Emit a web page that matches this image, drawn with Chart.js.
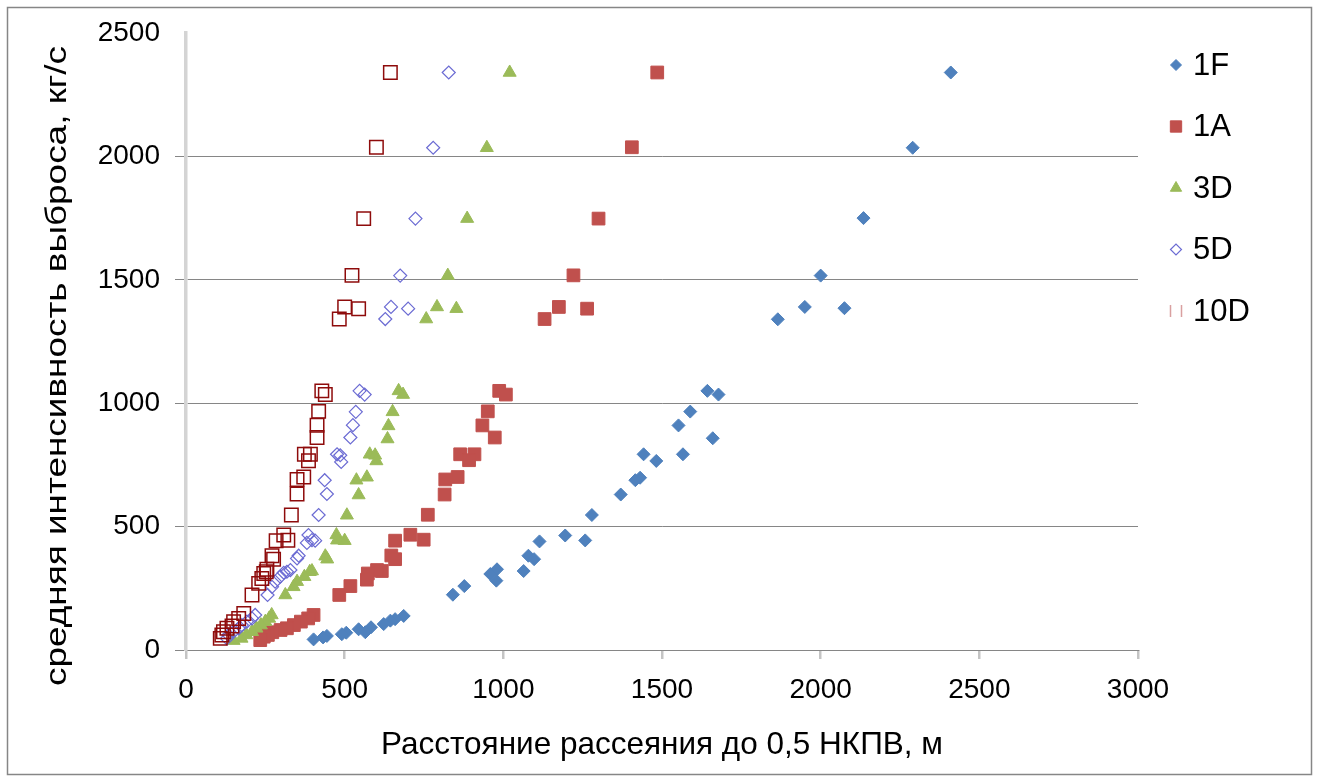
<!DOCTYPE html>
<html>
<head>
<meta charset="utf-8">
<script src="https://cdn.jsdelivr.net/npm/chart.js@4.4.1/dist/chart.umd.min.js"></script>
<style>
  body { margin: 0; background: #fff; }
  canvas { display: block; }
</style>
</head>
<body>
<canvas id="scatterChart" width="1317" height="781"></canvas>
<script>
// Оси
const xTicks = [0, 500, 1000, 1500, 2000, 2500, 3000];
const yTicks = [0, 500, 1000, 1500, 2000, 2500];
const xTitle = 'Расстояние рассеяния до 0,5 НКПВ, м';
const yTitle = 'средняя интенсивность выброса, кг/с';

// Серии: [расстояние, м ; интенсивность, кг/с]
const series1F = [
  [2410, 2340], [2290, 2035], [2135, 1750], [2000, 1517], [2075, 1385], [1950, 1390], [1865, 1340],
  [1643, 1050], [1678, 1035], [1589, 966], [1552, 910], [1660, 858], [1442, 793], [1566, 793], [1482, 766],
  [1431, 698], [1416, 688], [1370, 630], [1279, 547], [1195, 464], [1258, 444], [1114, 440], [1079, 382],
  [1097, 368], [1064, 320], [980, 327], [959, 308], [978, 281], [877, 259], [841, 224],
  [686, 138], [659, 125], [644, 119], [623, 105], [583, 92], [544, 84], [565, 72], [505, 70], [491, 64],
  [444, 57], [432, 51], [402, 43]
];
const series1A = [
  [1485, 2340], [1405, 2037], [1300, 1748], [1221, 1518], [1175, 1390], [1264, 1383], [1130, 1341],
  [987, 1050], [1008, 1035], [951, 967], [934, 910], [973, 861], [864, 793], [909, 793], [892, 769],
  [856, 701], [817, 691], [815, 630], [762, 548], [707, 467], [749, 447], [659, 443], [647, 383],
  [659, 368], [617, 320], [602, 324], [573, 310], [570, 285], [518, 259], [483, 223],
  [402, 142], [385, 128], [362, 115], [340, 101], [318, 88], [298, 81], [272, 72], [258, 61], [245, 54], [234, 40]
];
const series3D = [
  [1020, 2340], [948, 2035], [886, 1748], [825, 1517], [791, 1390], [852, 1383], [757, 1341],
  [670, 1050], [684, 1035], [651, 965], [638, 908], [635, 855], [579, 793], [596, 789], [600, 766],
  [570, 700], [537, 688], [544, 628], [507, 546], [474, 466], [500, 443], [476, 445], [439, 380],
  [445, 368], [397, 320], [390, 317], [373, 297], [350, 277], [339, 256], [313, 223],
  [270, 142], [262, 128], [250, 115], [236, 101], [222, 88], [208, 74], [190, 61], [175, 47], [150, 38]
];
const series5D = [
  [828, 2340], [779, 2035], [723, 1748], [675, 1517], [646, 1390], [700, 1383], [628, 1341],
  [547, 1050], [563, 1035], [535, 965], [526, 911], [518, 861], [476, 793], [486, 789], [489, 762],
  [437, 688], [444, 632], [418, 547], [386, 466], [397, 445], [381, 434], [407, 443], [355, 382],
  [350, 371], [329, 324], [318, 317], [308, 313], [297, 297], [281, 277], [271, 256], [257, 223],
  [218, 142], [208, 128], [192, 115], [176, 101], [166, 88], [150, 74], [134, 61], [129, 47]
];
const series10D = [
  [644, 2340], [600, 2037], [560, 1748], [523, 1518], [500, 1390], [544, 1383], [483, 1341],
  [428, 1050], [439, 1035], [418, 967], [413, 911], [413, 861], [373, 793], [392, 793], [386, 767],
  [350, 691], [371, 701], [350, 632], [332, 547], [308, 466], [321, 445], [284, 443], [271, 382],
  [276, 368], [255, 327], [253, 317], [245, 310], [239, 290], [229, 270], [208, 223],
  [182, 148], [166, 128], [150, 115], [145, 97], [129, 88], [118, 74], [113, 61], [108, 47]
];

const FONT = '"Liberation Sans", Arial, sans-serif';
const toXY = arr => arr.map(p => ({ x: p[0], y: p[1] }));

// рамка вокруг диаграммы
const frame = {
  id: 'frame',
  beforeDraw(chart) {
    const c = chart.ctx;
    c.save();
    c.fillStyle = '#fff';
    c.fillRect(0, 0, chart.width, chart.height);
    c.strokeStyle = '#868686';
    c.lineWidth = 1.5;
    c.strokeRect(7.5, 7.5, 1304, 767);
    c.restore();
  }
};

// подпись оси Y (растянута вдоль, как в исходнике)
const yLabel = {
  id: 'yLabel',
  afterDraw(chart) {
    const c = chart.ctx;
    c.save();
    c.font = '30px ' + FONT;
    c.fillStyle = '#000';
    c.textAlign = 'center';
    c.textBaseline = 'middle';
    const w = c.measureText(yTitle).width;
    c.translate(58, 366);
    c.rotate(-Math.PI / 2);
    c.scale(640 / w, 1);
    c.fillText(yTitle, 0, 0);
    c.restore();
  }
};

// легенда справа
const sideLegend = {
  id: 'sideLegend',
  afterDraw(chart) {
    const c = chart.ctx;
    c.save();
    chart.data.datasets.forEach((ds, i) => {
      const y = 65 + i * 61.5;
      const x = 1176;
      if (ds.label === '10D') {
        c.strokeStyle = '#d9a0a0';
        c.lineWidth = 1.5;
        c.beginPath();
        c.moveTo(x - 5.5, y - 6); c.lineTo(x - 5.5, y + 6);
        c.moveTo(x + 5.5, y - 6); c.lineTo(x + 5.5, y + 6);
        c.stroke();
      } else {
        c.fillStyle = ds.backgroundColor;
        c.strokeStyle = ds.borderColor;
        c.lineWidth = ds.borderWidth;
        Chart.helpers.drawPoint(c, {
          pointStyle: ds.pointStyle, radius: ds.legendRadius,
          rotation: 0, borderWidth: ds.borderWidth
        }, x, y);
      }
      c.fillStyle = '#000';
      c.font = '31px ' + FONT;
      c.textBaseline = 'middle';
      c.textAlign = 'left';
      c.fillText(ds.label, 1193, y + 1);
    });
    c.restore();
  }
};

const ctx = document.getElementById('scatterChart').getContext('2d');
const chart = new Chart(ctx, {
  type: 'scatter',
  data: {
    datasets: [
      { label: '1F', data: toXY(series1F), pointStyle: 'rectRot', pointRadius: 6.5, legendRadius: 5.5,
        backgroundColor: '#4F81BD', borderColor: '#4F81BD', borderWidth: 1, order: 5 },
      { label: '1A', data: toXY(series1A), pointStyle: 'rect', pointRadius: 9, legendRadius: 8,
        backgroundColor: '#C0504D', borderColor: '#C0504D', borderWidth: 1, order: 4 },
      { label: '3D', data: toXY(series3D), pointStyle: 'triangle', pointRadius: 7.5, legendRadius: 6.5,
        backgroundColor: '#9BBB59', borderColor: '#9BBB59', borderWidth: 1, order: 3 },
      { label: '5D', data: toXY(series5D), pointStyle: 'rectRot', pointRadius: 6.5, legendRadius: 5.5,
        backgroundColor: 'rgba(255,255,255,0)', borderColor: '#6B6BD3', borderWidth: 1.2, order: 2 },
      { label: '10D', data: toXY(series10D), pointStyle: 'rect', pointRadius: 9.5, legendRadius: 8,
        backgroundColor: 'rgba(255,255,255,0)', borderColor: '#8E0B0B', borderWidth: 1.5, order: 1 }
    ]
  },
  options: {
    responsive: false,
    animation: false,
    layout: { padding: { left: 0, top: 33, right: 179, bottom: 0 } },
    plugins: {
      legend: { display: false },
      tooltip: { enabled: false }
    },
    scales: {
      x: {
        type: 'linear',
        min: xTicks[0],
        max: xTicks[xTicks.length - 1],
        afterBuildTicks: s => { s.ticks = xTicks.map(v => ({ value: v })); },
        afterFit: s => { s.height = 131; },
        grid: { drawOnChartArea: false, drawTicks: true, tickLength: 9, color: '#c4c4c4', lineWidth: 2.5 },
        border: { display: true, color: '#868686', width: 1 },
        ticks: { color: '#000', font: { family: FONT, size: 28 }, padding: 14, maxRotation: 0,
                 callback: v => String(v) },
        title: { display: true, text: xTitle, color: '#000', font: { family: FONT, size: 31.5 },
                 padding: { top: 0, bottom: 17 } }
      },
      y: {
        type: 'linear',
        min: yTicks[0],
        max: yTicks[yTicks.length - 1],
        afterBuildTicks: s => { s.ticks = yTicks.map(v => ({ value: v })); },
        afterFit: s => { s.width = 186; },
        grid: {
          color: c => (c.tick && c.tick.value === 2500) ? 'rgba(0,0,0,0)' : '#868686',
          lineWidth: 1, tickLength: 11
        },
        border: { display: true, color: '#d4d4d4', width: 3.5 },
        ticks: { color: '#000', font: { family: FONT, size: 28 }, padding: 15,
                 callback: v => String(v) },
        title: { display: false }
      }
    }
  },
  plugins: [frame, yLabel, sideLegend]
});
</script>
</body>
</html>
